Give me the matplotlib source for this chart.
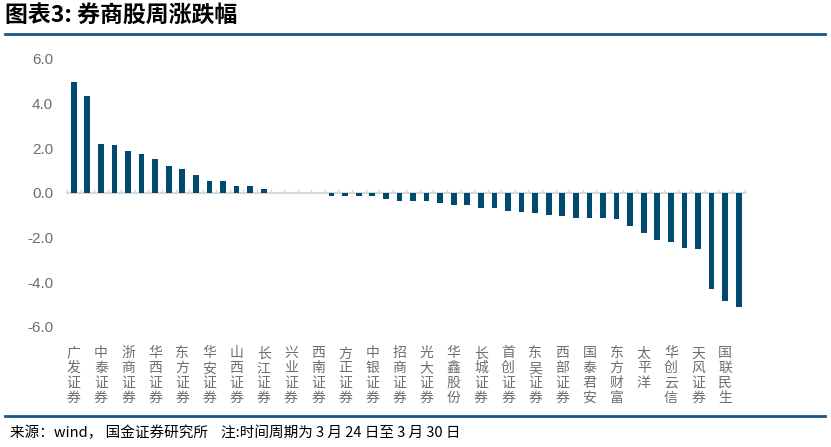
import matplotlib
matplotlib.use("Agg")
from matplotlib import pyplot as plt
from matplotlib.lines import Line2D
import numpy as np

plt.rcParams['font.family'] = ['Noto Sans CJK SC', 'DejaVu Sans']

# weekly change of broker stocks (%), 50 stocks, only every other one is labelled
VALUES = [4.95, 4.35, 2.20, 2.15, 1.88, 1.74, 1.53, 1.20, 1.06, 0.79,
          0.53, 0.52, 0.32, 0.31, 0.18, 0.0, 0.0, 0.0, 0.0, -0.13,
          -0.12, -0.13, -0.13, -0.25, -0.37, -0.37, -0.37, -0.46, -0.52, -0.52,
          -0.66, -0.66, -0.80, -0.85, -0.91, -0.98, -1.05, -1.10, -1.10, -1.10,
          -1.18, -1.50, -1.78, -2.12, -2.18, -2.45, -2.52, -4.30, -4.85, -5.12]
SHOWN_LABELS = ["广发证券", "中泰证券", "浙商证券", "华西证券", "东方证券",
                "华安证券", "山西证券", "长江证券", "兴业证券", "西南证券",
                "方正证券", "中银证券", "招商证券", "光大证券", "华鑫股份",
                "长城证券", "首创证券", "东吴证券", "西部证券", "国泰君安",
                "东方财富", "太平洋", "华创云信", "天风证券", "国联民生"]
Y_TICKS = [-6, -4, -2, 0, 2, 4, 6]

BAR_COLOR = "#004a70"
LINE_COLOR = "#1a5685"
GRAY = "#6e6e6e"

fig = plt.figure(figsize=(8.31, 4.47), dpi=100)
ax = fig.add_axes([0.0806, 0.2685, 0.8165, 0.5996])

x = np.arange(len(VALUES))
ax.bar(x, VALUES, width=0.42, color=BAR_COLOR, zorder=3)

ax.set_xlim(-0.5, len(VALUES) - 0.5)
ax.set_ylim(-6, 6)
ax.set_yticks(Y_TICKS)
ax.set_yticklabels(["%.1f" % v for v in Y_TICKS], fontsize=11, color=GRAY,
                   family=['Liberation Sans'])
ax.tick_params(axis='y', length=0, pad=10)

ax.set_xticks(x[::2])
ax.set_xticklabels(["\n".join(s) for s in SHOWN_LABELS], fontsize=10,
                   color=GRAY, linespacing=1.08, va='top')
ax.tick_params(axis='x', length=0, pad=14)

for s in ax.spines.values():
    s.set_visible(False)

# zero line with category boundary ticks
sec = ax.secondary_xaxis(0.5)
sec.set_xticks(np.arange(-0.5, len(VALUES), 1.0))
sec.tick_params(axis='x', direction='out', length=3, width=1, color='#d9d9d9',
                labeltop=False, labelbottom=False)
for s in sec.spines.values():
    s.set_color('#d9d9d9')
    s.set_linewidth(1.5)

# title, rules and source
fig.text(5 / 831, 1 - 16 / 447, "图表3: 券商股周涨跌幅", fontsize=16.5,
         fontweight='bold', style='italic', va='center', ha='left')
fig.add_artist(Line2D([5 / 831, 825 / 831], [1 - 33.5 / 447, 1 - 33.5 / 447],
                      color=LINE_COLOR, lw=2))
fig.add_artist(Line2D([5 / 831, 825 / 831], [1 - 415.5 / 447, 1 - 415.5 / 447],
                      color=LINE_COLOR, lw=2))
fig.text(10 / 831, 1 - 433 / 447,
         "来源：wind， 国金证券研究所    注:时间周期为 3 月 24 日至 3 月 30 日",
         fontsize=10.5, va='center', ha='left')

fig.savefig("out.png", dpi=100)
